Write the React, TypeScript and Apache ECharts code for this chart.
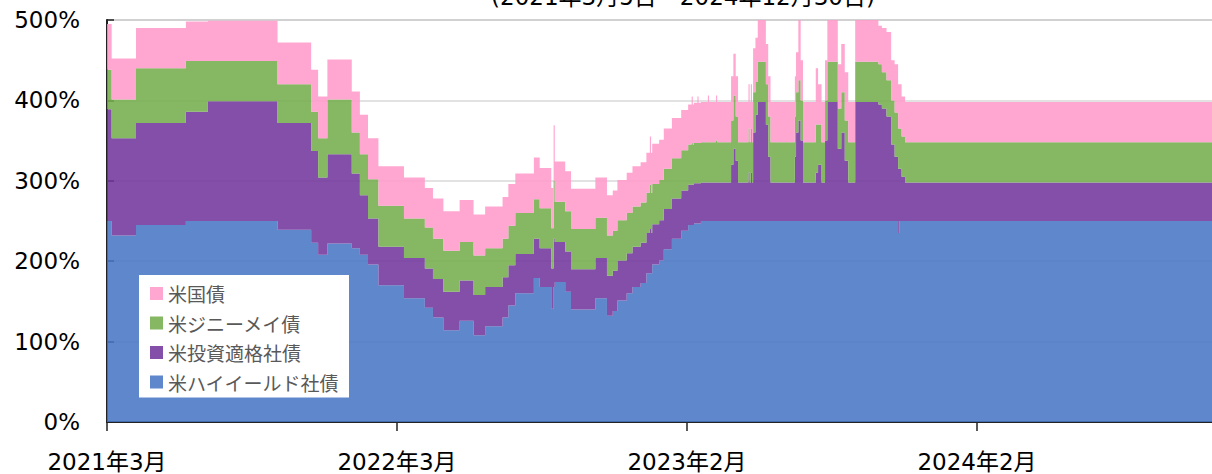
import React, { useEffect, useRef } from 'react';
import * as echarts from 'echarts';

const TITLE = '(2021年3月5日～2024年12月30日)';
const SERIES_NAMES = ['米ハイイールド社債', '米投資適格社債', '米ジニーメイ債', '米国債'];
const LEGEND_ORDER = ['米国債', '米ジニーメイ債', '米投資適格社債', '米ハイイールド社債'];
const X_TICK_POS = [0, 250, 500, 750];
const X_TICK_LABELS = ['2021年3月', '2022年3月', '2023年2月', '2024年2月'];
const X_LAST_DAY = 962;

// trading-day index (from 2021-03-05) at which each allocation starts
const DAY = [
  0, 4, 25, 68, 87, 147, 176, 182, 190, 211, 218, 225, 234, 256, 274, 281, 290, 304, 316, 326,
  341, 346, 352, 368, 373, 383, 385, 386, 395, 400, 421, 431, 436, 440, 448, 453, 460, 465, 468, 469,
  470, 476, 480, 487, 495, 501, 504, 505, 506, 509, 510, 512, 518, 519, 525, 526, 538, 540, 542, 544,
  553, 554, 555, 556, 557, 559, 561, 568, 570, 572, 593, 594, 596, 598, 600, 611, 613, 616, 619, 621,
  630, 633, 636, 639, 645, 665, 668, 672, 676, 679, 682, 683, 685, 688, 962,
];
// 米ハイイールド社債 (%)
const HY = [
  250, 232, 245, 250, 250, 239, 223, 208, 222, 216, 208, 196, 170, 154, 142, 130, 114, 126, 108, 119,
  130, 145, 160, 179, 168, 141, 168, 174, 162, 140, 154, 132, 138, 151, 160, 168, 173, 185, 185, 185,
  196, 201, 215, 228, 238, 245, 245, 245, 247, 247, 247, 250, 250, 250, 250, 250, 250, 250, 250, 250,
  250, 250, 250, 250, 250, 250, 250, 250, 250, 250, 250, 250, 250, 250, 250, 250, 250, 250, 250, 250,
  250, 250, 250, 250, 250, 250, 250, 250, 250, 250, 235, 250, 250, 250, 250,
];
// 米投資適格社債 (%)
const IG = [
  139, 121, 127, 136, 149, 133, 114, 96, 111, 93, 74, 57, 48, 50, 49, 48, 48, 50, 50, 49,
  50, 50, 49, 49, 48, 50, 60, 50, 50, 50, 50, 50, 50, 50, 50, 50, 50, 50, 55, 50,
  50, 50, 50, 50, 50, 50, 50, 50, 50, 50, 50, 48, 48, 48, 48, 48, 70, 90, 75, 48,
  60, 48, 60, 48, 110, 132, 148, 120, 80, 48, 80, 110, 125, 100, 48, 60, 70, 48, 100, 148,
  90, 110, 75, 48, 148, 145, 140, 130, 95, 80, 80, 65, 55, 48, 48,
];
// 米ジニーメイ債 (%)
const GN = [
  49, 48, 68, 63, 50, 48, 49, 49, 68, 51, 51, 49, 51, 49, 51, 50, 51, 48, 49, 48,
  48, 49, 51, 49, 50, 50, 72, 50, 50, 50, 50, 50, 50, 50, 50, 50, 50, 50, 55, 50,
  50, 50, 50, 50, 50, 50, 52, 50, 50, 50, 50, 50, 50, 50, 52, 50, 55, 66, 55, 50,
  55, 50, 55, 50, 50, 41, 50, 50, 50, 50, 50, 50, 50, 50, 50, 60, 50, 50, 50, 50,
  50, 50, 50, 50, 50, 50, 45, 45, 55, 55, 50, 50, 50, 50, 50,
];
// 米国債 (%)
const UST = [
  57, 51, 50, 49, 50, 52, 52, 52, 50, 51, 49, 51, 49, 51, 49, 50, 49, 52, 51, 52,
  52, 52, 49, 52, 50, 50, 69, 50, 50, 50, 50, 50, 50, 50, 50, 50, 50, 50, 60, 50,
  50, 50, 50, 50, 50, 50, 58, 50, 50, 58, 50, 50, 58, 50, 56, 50, 55, 52, 50, 50,
  55, 50, 55, 50, 55, 55, 52, 50, 50, 50, 50, 50, 75, 50, 50, 70, 50, 50, 50, 52,
  55, 60, 60, 50, 55, 48, 55, 60, 50, 60, 55, 55, 50, 50, 50,
];

const LEGEND_COLORS = ['#5F87CC', '#834FA8', '#86B763', '#FFA6D1'];
const FILL_COLORS = ['#4775C4', '#70359B', '#74AC4C', '#FF99CA'];
const AXIS_FONT = '"DejaVu Sans", "Noto Sans CJK JP", sans-serif';
const CJK_FONT = '"Noto Sans CJK JP", sans-serif';

export default function App() {
  const ref = useRef<HTMLDivElement>(null);

  useEffect(() => {
    if (!ref.current) return;
    const chart = echarts.init(ref.current, undefined, { renderer: 'svg' });
    const values = [HY, IG, GN, UST];
    const pxPerDay = 1.16;
    const gridLeft = 107;
    const gridRight = 1212 - gridLeft - X_LAST_DAY * pxPerDay;

    // value first, day second: the first (value) dimension is the stacked one
    const series = SERIES_NAMES.map((name, s) => ({
      name,
      type: 'line',
      stack: 'total',
      step: 'end',
      symbol: 'none',
      showSymbol: false,
      silent: true,
      encode: { x: 1, y: 0 },
      lineStyle: { width: 0, opacity: 0 },
      itemStyle: { color: LEGEND_COLORS[s] },
      areaStyle: { color: FILL_COLORS[s], opacity: 0.87 },
      emphasis: { disabled: true },
      data: DAY.map((d, i) => [values[s][i], d]),
    }));

    chart.setOption({
      animation: false,
      backgroundColor: '#ffffff',
      grid: {
        left: gridLeft,
        right: gridRight,
        top: 20,
        bottom: 52,
        show: true,
        borderColor: '#a6a6a6',
        borderWidth: 1.5,
        backgroundColor: 'transparent',
        outerBoundsMode: 'none',
        containLabel: false,
      },
      graphic: [
        {
          type: 'text',
          x: 683,
          y: -3,
          silent: true,
          style: {
            text: TITLE,
            fontSize: 23,
            fontFamily: AXIS_FONT,
            fill: '#000',
            align: 'center',
            verticalAlign: 'middle',
          },
        },
      ],
      legend: {
        orient: 'vertical',
        left: 139,
        top: 275,
        backgroundColor: '#ffffff',
        padding: [9, 10, 6, 11],
        itemWidth: 13,
        itemHeight: 13,
        itemGap: 10.5,
        icon: 'rect',
        selectedMode: false,
        textStyle: { fontSize: 19, color: '#595959', fontFamily: CJK_FONT },
        data: LEGEND_ORDER,
      },
      xAxis: {
        type: 'value',
        min: 0,
        max: X_LAST_DAY,
        interval: 250,
        axisLine: { show: true, onZero: false, lineStyle: { color: '#222', width: 2 } },
        axisTick: { show: true, length: 9, lineStyle: { color: '#222', width: 1.5 } },
        splitLine: { show: false },
        axisLabel: {
          fontSize: 23,
          fontFamily: AXIS_FONT,
          color: '#000',
          margin: 28,
          showMaxLabel: false,
          formatter: (v: number) => {
            const i = X_TICK_POS.indexOf(v);
            return i >= 0 ? X_TICK_LABELS[i] : '';
          },
        },
      },
      yAxis: {
        type: 'value',
        min: 0,
        max: 500,
        interval: 100,
        axisLine: { show: true, lineStyle: { color: '#222', width: 2 } },
        axisTick: { show: true, inside: true, length: 7, lineStyle: { color: '#222', width: 1.5 } },
        splitLine: { show: true, lineStyle: { color: '#d9d9d9', width: 1.5 } },
        axisLabel: {
          fontSize: 23,
          fontFamily: AXIS_FONT,
          color: '#000',
          margin: 27,
          padding: [8, 0, 0, 0],
          formatter: '{value}%',
        },
      },
      series,
    });

    return () => chart.dispose();
  }, []);

  return (
    <div
      ref={ref}
      style={{ position: 'fixed', left: 0, top: 0, width: 1212, height: 474 }}
    />
  );
}
